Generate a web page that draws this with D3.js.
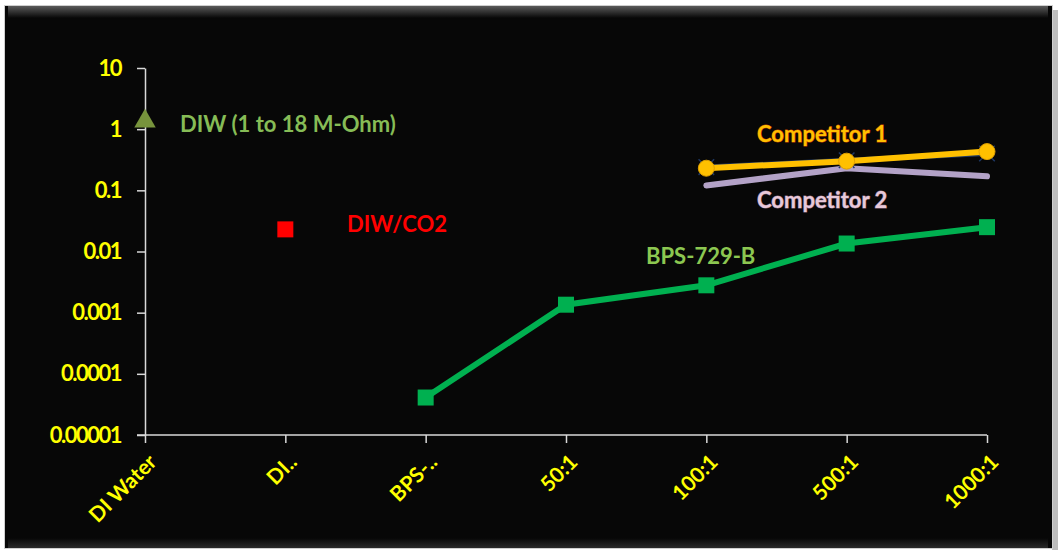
<!DOCTYPE html>
<html>
<head>
<meta charset="utf-8">
<script src="https://cdn.jsdelivr.net/npm/d3@7"></script>
<style>
  body { margin: 0; background: #ffffff; }
  svg { display: block; }
  text { font-family: "Lato", "DejaVu Sans", sans-serif; font-weight: bold; }
</style>
</head>
<body>
<svg id="chart" width="1061" height="553"></svg>
<script>
// categories along the bottom
var categories = ["DI Water", "DI..", "BPS-..", "50:1", "100:1", "500:1", "1000:1"];
var yTicks = [10, 1, 0.1, 0.01, 0.001, 0.0001, 0.00001];
var yTickLabels = ["10", "1", "0.1", "0.01", "0.001", "0.0001", "0.00001"];

// series (category, value)
var diw = [{c: "DI Water", v: 1.35}];
var diwCo2 = [{c: "DI..", v: 0.023}];
var bps = [
  {c: "BPS-..", v: 0.000041},
  {c: "50:1", v: 0.00135},
  {c: "100:1", v: 0.0028},
  {c: "500:1", v: 0.0135},
  {c: "1000:1", v: 0.025}
];
var competitor1 = [
  {c: "100:1", v: 0.23},
  {c: "500:1", v: 0.30},
  {c: "1000:1", v: 0.43}
];
var competitor1b = [
  {c: "100:1", v: 0.24},
  {c: "500:1", v: 0.31},
  {c: "1000:1", v: 0.40}
];
var competitor2 = [
  {c: "100:1", v: 0.12},
  {c: "500:1", v: 0.23},
  {c: "1000:1", v: 0.17}
];

var svg = d3.select("#chart");

// frame with bevel
var defs = svg.append("defs");
var gTop = defs.append("linearGradient").attr("id", "topBevel").attr("x1", 0).attr("y1", 0).attr("x2", 0).attr("y2", 1);
gTop.append("stop").attr("offset", "0%").attr("stop-color", "#5a5a5a");
gTop.append("stop").attr("offset", "100%").attr("stop-color", "#070707");
var gBot = defs.append("linearGradient").attr("id", "botBevel").attr("x1", 0).attr("y1", 0).attr("x2", 0).attr("y2", 1);
gBot.append("stop").attr("offset", "0%").attr("stop-color", "#070707");
gBot.append("stop").attr("offset", "100%").attr("stop-color", "#2a2a2a");

svg.append("rect").attr("x", 1052).attr("y", 10).attr("width", 6).attr("height", 540).attr("fill", "#bdbdbd");
svg.append("rect").attr("x", 4).attr("y", 5).attr("width", 1049).attr("height", 544).attr("fill", "#cfcfcf");
svg.append("rect").attr("x", 5).attr("y", 6).attr("width", 1047).attr("height", 542).attr("fill", "#070707");
svg.append("rect").attr("x", 8).attr("y", 6).attr("width", 1040).attr("height", 12).attr("fill", "url(#topBevel)");
svg.append("rect").attr("x", 8).attr("y", 538).attr("width", 1040).attr("height", 10).attr("fill", "url(#botBevel)");

var x = d3.scalePoint().domain(categories).range([145, 987]);
var y = d3.scaleLog().domain([0.00001, 10]).range([435, 68]);

var g = svg.append("g");

// y axis
var yAxis = g.append("g")
  .attr("transform", "translate(145,0)")
  .call(d3.axisLeft(y).tickValues(yTicks)
    .tickFormat(function(d, i) { return yTickLabels[i]; })
    .tickSize(8).tickSizeOuter(0));
yAxis.select(".domain").attr("stroke", "#d9d9d9").attr("stroke-width", 1.5);
yAxis.selectAll(".tick line").attr("stroke", "#d9d9d9").attr("stroke-width", 1.5);
yAxis.selectAll(".tick text")
  .attr("x", -24)
  .attr("fill", "#ffff00")
  .style("font-size", "22px")
  .style("letter-spacing", "-1.5px")
  .style("font-weight", "bold");

// x axis
var xAxis = g.append("g")
  .attr("transform", "translate(0,435)")
  .call(d3.axisBottom(x).tickSize(8).tickSizeOuter(0));
xAxis.select(".domain").attr("stroke", "#d9d9d9").attr("stroke-width", 1.5)
  .attr("d", "M137,0H987");
xAxis.selectAll(".tick line").attr("stroke", "#d9d9d9").attr("stroke-width", 1.5);
xAxis.selectAll(".tick text")
  .attr("fill", "#ffff00")
  .attr("text-anchor", "end")
  .attr("transform", "translate(2,18) rotate(-45)")
  .attr("x", 0).attr("y", 0).attr("dy", "0.7em")
  .style("font-size", "21px")
  .style("font-weight", "bold");

var line = d3.line()
  .x(function(d) { return x(d.c); })
  .y(function(d) { return y(d.v); });

// competitor 2 (lavender)
g.append("path").datum(competitor2)
  .attr("fill", "none").attr("stroke", "#b3a2c7").attr("stroke-width", 6)
  .attr("stroke-linecap", "round").attr("d", line);

// dark navy series underneath competitor 1
g.append("path").datum(competitor1b)
  .attr("fill", "none").attr("stroke", "#1f3864").attr("stroke-width", 5).attr("d", line);
g.selectAll(".xmark").data(competitor1b).enter().append("path")
  .attr("class", "xmark")
  .attr("transform", function(d) { return "translate(" + x(d.c) + "," + y(d.v) + ")"; })
  .attr("d", d3.symbol().type(d3.symbolX).size(160))
  .attr("stroke", "#1f3864").attr("stroke-width", 1.5);

// competitor 1 (gold)
g.append("path").datum(competitor1)
  .attr("fill", "none").attr("stroke", "#ffc000").attr("stroke-width", 6).attr("d", line);
g.selectAll(".c1").data(competitor1).enter().append("circle")
  .attr("class", "c1")
  .attr("cx", function(d) { return x(d.c); })
  .attr("cy", function(d) { return y(d.v); })
  .attr("r", 8)
  .attr("fill", "#ffc000").attr("stroke", "#e0a000").attr("stroke-width", 1);

// BPS-729-B (green)
g.append("path").datum(bps)
  .attr("fill", "none").attr("stroke", "#00b050").attr("stroke-width", 6).attr("d", line);
g.selectAll(".bps").data(bps).enter().append("rect")
  .attr("class", "bps")
  .attr("x", function(d) { return x(d.c) - 8; })
  .attr("y", function(d) { return y(d.v) - 8; })
  .attr("width", 16).attr("height", 16)
  .attr("fill", "#00b050");

// DIW triangle
g.selectAll(".diw").data(diw).enter().append("path")
  .attr("class", "diw")
  .attr("transform", function(d) { return "translate(" + x(d.c) + "," + y(d.v) + ")"; })
  .attr("d", d3.symbol().type(d3.symbolTriangle).size(200))
  .attr("fill", "#77933c");

// DIW/CO2 square
g.selectAll(".co2").data(diwCo2).enter().append("rect")
  .attr("class", "co2")
  .attr("x", function(d) { return x(d.c) - 8; })
  .attr("y", function(d) { return y(d.v) - 8; })
  .attr("width", 16).attr("height", 16)
  .attr("fill", "#ff0000");

// series labels
function label(text, px, py, color, shadow) {
  var t = g.append("text")
    .attr("x", px).attr("y", py)
    .attr("fill", color)
    .style("font-size", "22px")
    .text(text);
  if (shadow) t.style("paint-order", "stroke").attr("stroke", shadow).attr("stroke-width", 1);
  return t;
}
label("DIW (1 to 18 M-Ohm)", 180, 132, "#86bc56");
label("DIW/CO2", 347, 232, "#ff0000");
label("BPS-729-B", 646, 264, "#8cc751");
label("Competitor 1", 757, 142, "#ffc000", "#c04000");
label("Competitor 2", 757, 208, "#e8c9d9", "#8a6a80");
</script>
</body>
</html>
